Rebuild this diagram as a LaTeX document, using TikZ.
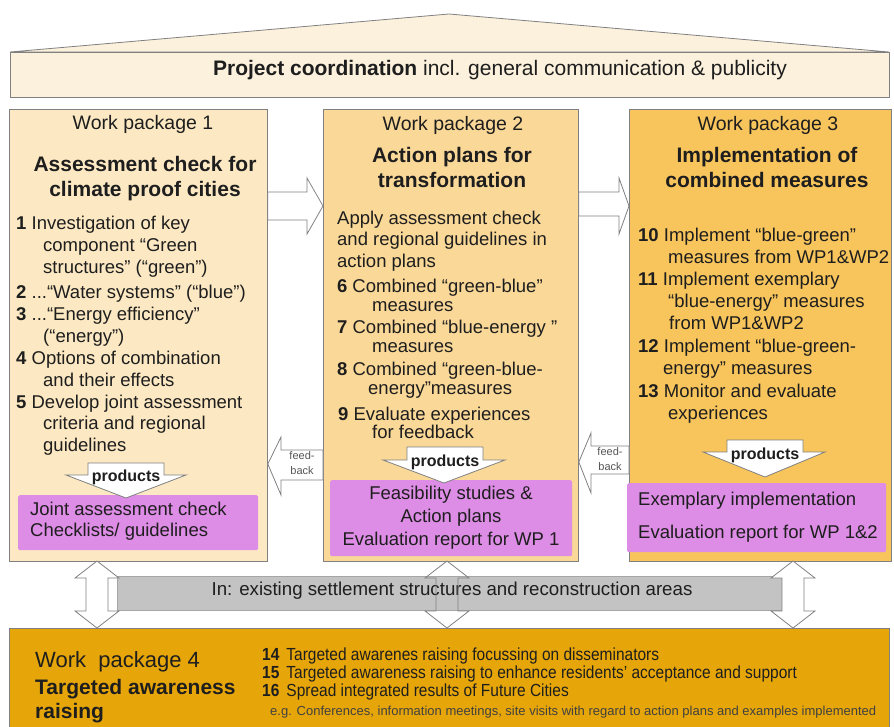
\documentclass[tikz,border=0pt]{standalone}
\usepackage{fontspec}
\setmainfont{Liberation Sans}
\newfontfamily\narrowfont[FakeStretch=0.885]{Liberation Sans}
\definecolor{roof}{HTML}{FCF1DC}
\definecolor{wpa}{HTML}{FCE9C3}
\definecolor{wpb}{HTML}{FAD898}
\definecolor{wpc}{HTML}{F8C55C}
\definecolor{wpd}{HTML}{E6A60A}
\definecolor{prod}{HTML}{DE8DE6}
\definecolor{band}{HTML}{C3C3C3}
\definecolor{edge}{HTML}{808080}
\definecolor{ink}{HTML}{1E1E1E}
\begin{document}
\begin{tikzpicture}[x=1pt,y=-1pt,
  box/.style={draw=edge, line width=0.8pt, inner sep=0pt, anchor=north west},
  pbox/.style={fill=prod, inner sep=0pt, anchor=north west, rounded corners=1.5pt},
  txt/.style={anchor=mid west, inner sep=0pt, text=ink, font=\fontsize{18.5}{22}\selectfont},
  ctxt/.style={anchor=mid, inner sep=0pt, text=ink, font=\fontsize{19.5}{22}\selectfont},
  headtxt/.style={anchor=mid, inner sep=0pt, text=ink, font=\fontsize{21}{24}\selectfont\bfseries},
  barrow/.style={draw=edge, fill=white, line width=0.8pt, line join=miter},
  prodtxt/.style={anchor=mid, inner sep=0pt, text=ink, font=\fontsize{16}{18}\selectfont\bfseries},
  fbtxt/.style={anchor=mid, inner sep=0pt, text=ink!75, font=\fontsize{11}{13}\selectfont},
  itemtxt/.style={anchor=mid west, inner sep=0pt, text=ink, font=\fontsize{17.5}{19}\narrowfont},
]
\useasboundingbox (0,0) rectangle (894,726);

% roof and coordination bar
\draw[draw=edge, fill=roof, line width=0.8pt] (10,52) -- (449,14) -- (889,52) -- cycle;
\node[box, fill=roof, minimum width=879pt, minimum height=45pt] (coord) at (10,52) {};
\node[anchor=mid, inner sep=0pt, text=ink, font=\fontsize{21}{24}\selectfont] (coordtxt) at (500,73)
  {\textbf{Project coordination} incl. general communication \& publicity};

% work package boxes
\node[box, fill=wpa, minimum width=258pt, minimum height=452pt] (wp1) at (9,109) {};
\node[box, fill=wpb, minimum width=255pt, minimum height=452pt] (wp2) at (323,109) {};
\node[box, fill=wpc, minimum width=262pt, minimum height=452pt] (wp3) at (629,109) {};
\node[box, fill=wpd, minimum width=880pt, minimum height=110pt] (wp4) at (9,628) {};

% purple product boxes
\node[pbox, minimum width=240pt, minimum height=55pt] (p1) at (18,495) {};
\node[pbox, minimum width=242pt, minimum height=76pt] (p2) at (330,480) {};
\node[pbox, minimum width=259pt, minimum height=69pt] (p3) at (627,483) {};

% WP1 text
\node[ctxt] (w1t) at (143,127) {Work package 1};
\node[headtxt] (w1h1) at (145,169) {Assessment check for};
\node[headtxt] (w1h2) at (145,194) {climate proof cities};
\node[txt] (a1) at (16,227) {\textbf{1} Investigation of key};
\node[txt] (a2) at (43,249) {component “Green};
\node[txt] (a3) at (43,271) {structures” (“green”)};
\node[txt] (a4) at (16,296) {\textbf{2} ...“Water systems” (“blue”)};
\node[txt] (a5) at (16,318) {\textbf{3} ...“Energy efficiency”};
\node[txt] (a6) at (43,340) {(“energy”)};
\node[txt] (a7) at (16,362) {\textbf{4} Options of combination};
\node[txt] (a8) at (43,384) {and their effects};
\node[txt] (a9) at (16,406) {\textbf{5} Develop joint assessment};
\node[txt] (a10) at (43,427) {criteria and regional};
\node[txt] (a11) at (43,449) {guidelines};
\node[txt] (pa1) at (30,513) {Joint assessment check};
\node[txt] (pa2) at (30,534) {Checklists/ guidelines};

% WP2 text
\node[ctxt] (w2t) at (453,128) {Work package 2};
\node[headtxt] (w2h1) at (452,160) {Action plans for};
\node[headtxt] (w2h2) at (452,185) {transformation};
\node[txt] (b1) at (337,222) {Apply assessment check};
\node[txt] (b2) at (337,243) {and regional guidelines in};
\node[txt] (b3) at (337,265) {action plans};
\node[txt] (b4) at (337,290) {\textbf{6}\hspace{5pt}Combined “green-blue”};
\node[txt] (b5) at (372,309) {measures};
\node[txt] (b6) at (337,331) {\textbf{7} Combined “blue-energy ”};
\node[txt] (b7) at (372,350) {measures};
\node[txt] (b8) at (337,373) {\textbf{8} Combined “green-blue-};
\node[txt] (b9) at (368,392) {energy”measures};
\node[txt] (b10) at (338,418) {\textbf{9} Evaluate experiences};
\node[txt] (b11) at (372,436) {for feedback};
\node[ctxt, font=\fontsize{18.5}{22}\selectfont] (pb1) at (451,497) {Feasibility studies \&};
\node[ctxt, font=\fontsize{18.5}{22}\selectfont] (pb2) at (451,520) {Action plans};
\node[ctxt, font=\fontsize{18.5}{22}\selectfont] (pb3) at (451,543) {Evaluation report for WP 1};

% WP3 text
\node[ctxt] (w3t) at (768,128) {Work package 3};
\node[headtxt] (w3h1) at (767,160) {Implementation of};
\node[headtxt] (w3h2) at (767,185) {combined measures};
\node[txt] (c1) at (638,239) {\textbf{10} Implement “blue-green”};
\node[txt] (c2) at (668,261) {measures from WP1\&WP2};
\node[txt] (c3) at (638,283) {\textbf{11} Implement exemplary};
\node[txt] (c4) at (668,305) {“blue-energy” measures};
\node[txt] (c5) at (669,327) {from WP1\&WP2};
\node[txt] (c6) at (638,350) {\textbf{12} Implement “blue-green-};
\node[txt] (c7) at (663,372) {energy” measures};
\node[txt] (c8) at (638,395) {\textbf{13} Monitor and evaluate};
\node[txt] (c9) at (668,417) {experiences};
\node[txt] (pc1) at (638,503) {Exemplary implementation};
\node[txt] (pc2) at (638,536) {Evaluation report for WP 1\&2};

% arrows WP1 -> WP2 -> WP3
\draw[barrow] (wp1.east |- 0,192) -- (307,192) -- (307,178) -- (wp2.west |- 0,206)
  -- (307,234) -- (307,220) -- (wp1.east |- 0,220) -- cycle;
\draw[barrow] (wp2.east |- 0,192) -- (619,192) -- (619,178) -- (wp3.west |- 0,206)
  -- (619,234) -- (619,216) -- (wp2.east |- 0,216) -- cycle;

% feedback arrows
\draw[barrow] (wp2.west |- 0,450) -- (281,450) -- (281,437) -- (wp1.east |- 0,464)
  -- (281,495) -- (281,480) -- (wp2.west |- 0,480) -- cycle;
\node[fbtxt] (fb1a) at (302,457) {feed-};
\node[fbtxt] (fb1b) at (302,472) {back};
\draw[barrow] (wp3.west |- 0,446) -- (591,446) -- (591,433) -- (wp2.east |- 0,462)
  -- (591,493) -- (591,474) -- (wp3.west |- 0,474) -- cycle;
\node[fbtxt] (fb2a) at (610,453) {feed-};
\node[fbtxt] (fb2b) at (610,468) {back};

% products arrows
\draw[barrow] (88,463) -- (164,463) -- (164,475) -- (186,475) -- (126,498)
  -- (66,475) -- (88,475) -- cycle;
\node[prodtxt] (pr1) at (126,479) {products};
\draw[barrow] (407,447) -- (483,447) -- (483,460) -- (505,460) -- (444,483)
  -- (383,460) -- (407,460) -- cycle;
\node[prodtxt] (pr2) at (445,464) {products};
\draw[barrow] (727,440) -- (803,440) -- (803,452) -- (825,452) -- (765,477)
  -- (703,452) -- (727,452) -- cycle;
\node[prodtxt] (pr3) at (765,457) {products};

% band
\node[box, fill=band, draw=band!85!black, line width=0.5pt, minimum width=667pt, minimum height=34pt] (band) at (117,576) {};
\node[anchor=mid, inner sep=0pt, text=ink, font=\fontsize{18.7}{21}\selectfont] (bandtxt) at (452,593)
  {In: existing settlement structures and reconstruction areas};

% double arrows
\draw[barrow] (97,561) -- (119,578) -- (108,578) -- (108,611) -- (119,611) -- (97,628)
  -- (75,611) -- (86,611) -- (86,578) -- (75,578) -- cycle;
\draw[draw=edge, line width=0.8pt] (447,561) -- (469,578) -- (458,578) -- (458,611) -- (469,611) -- (447,628)
  -- (425,611) -- (436,611) -- (436,578) -- (425,578) -- cycle;
\draw[barrow] (793,561) -- (815,578) -- (804,578) -- (804,611) -- (815,611) -- (793,628)
  -- (771,611) -- (782,611) -- (782,578) -- (771,578) -- cycle;

% WP4 text
\node[txt, font=\fontsize{22}{25}\selectfont] (w4t) at (35,665) {Work\ \ package 4};
\node[txt, font=\fontsize{21}{24}\selectfont\bfseries] (w4h1) at (35,692) {Targeted awareness};
\node[txt, font=\fontsize{21}{24}\selectfont\bfseries] (w4h2) at (35,716) {raising};
\node[itemtxt] (d1) at (262,658) {\textbf{14}\hspace{7pt}Targeted awarenes raising focussing on disseminators};
\node[itemtxt] (d2) at (262,676) {\textbf{15}\hspace{7pt}Targeted awareness raising to enhance residents’ acceptance and support};
\node[itemtxt] (d3) at (262,694) {\textbf{16}\hspace{7pt}Spread integrated results of Future Cities};
\node[anchor=mid west, inner sep=0pt, text=ink!85, font=\fontsize{13}{15}\selectfont] (d4) at (270,713)
  {e.g. Conferences, information meetings, site visits with regard to action plans and examples implemented};
\end{tikzpicture}
\end{document}
